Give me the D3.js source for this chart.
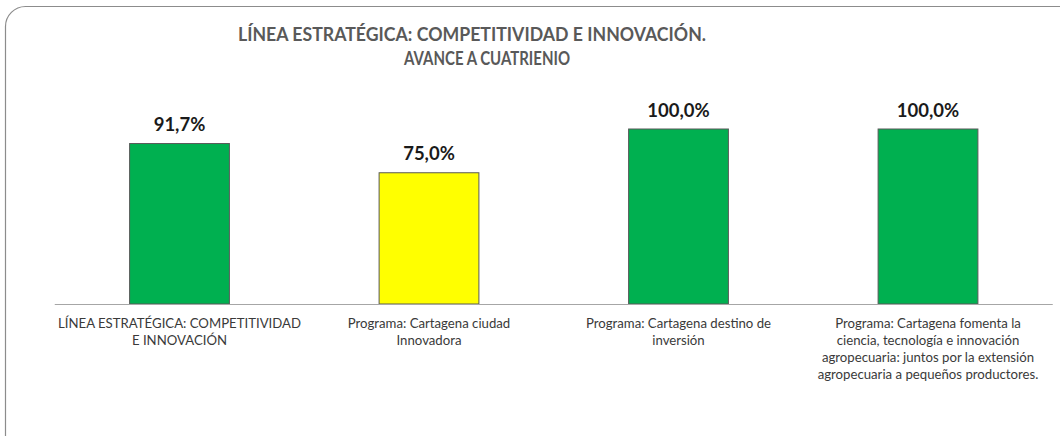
<!DOCTYPE html>
<html>
<head>
<meta charset="utf-8">
<script src="https://cdn.jsdelivr.net/npm/d3@7.9.0/dist/d3.min.js"></script>
<style>
  body { margin: 0; background: #fff; }
  svg { display: block; font-family: Lato, "Open Sans", sans-serif; }
</style>
</head>
<body>
<svg id="chart" width="1060" height="436"></svg>
<script>
// chart data
const titleLines = ['LÍNEA ESTRATÉGICA: COMPETITIVIDAD E INNOVACIÓN.', 'AVANCE A CUATRIENIO'];
const categories = ['linea', 'ciudad', 'destino', 'fomenta'];
const categoryLabels = [
    ['LÍNEA ESTRATÉGICA: COMPETITIVIDAD', 'E INNOVACIÓN'],
    ['Programa: Cartagena ciudad', 'Innovadora'],
    ['Programa: Cartagena destino de', 'inversión'],
    ['Programa: Cartagena fomenta la', 'ciencia, tecnología e innovación', 'agropecuaria: juntos por la extensión', 'agropecuaria a pequeños productores.']
];
const values = [0.917, 0.75, 1.0, 1.0];
const barColors = ['#00B050', '#FFFF00', '#00B050', '#00B050'];

let svg = d3.select('#chart');

// rounded frame (runs off the right and bottom edges like the original)
svg.append('rect')
    .attr('x', 5.5).attr('y', 6.5)
    .attr('width', 1080).attr('height', 450)
    .attr('rx', 20)
    .attr('fill', '#fff')
    .attr('stroke', '#8c8c8c')
    .attr('stroke-width', 1.2);

let x = d3.scaleBand().domain(categories).range([54.75, 1052.75]).paddingInner(0.6).paddingOuter(0.3);
let y = d3.scaleLinear().domain([0, 1]).range([304, 129]);

// title
let title = svg.append('g')
    .attr('font-weight', 'bold')
    .attr('fill', '#595959')
    .attr('text-anchor', 'middle');
title.append('text').attr('x', 472).attr('y', 41).attr('font-size', 18)
    .attr('textLength', 468).attr('lengthAdjust', 'spacingAndGlyphs').text(titleLines[0]);
title.append('text').attr('x', 487).attr('y', 65).attr('font-size', 18)
    .attr('textLength', 166).attr('lengthAdjust', 'spacingAndGlyphs').text(titleLines[1]);

// bars
svg.selectAll('rect.bar')
    .data(values)
    .join('rect')
    .attr('class', 'bar')
    .attr('x', (d, i) => x(categories[i]))
    .attr('y', d => y(d))
    .attr('width', x.bandwidth())
    .attr('height', d => y(0) - y(d))
    .attr('fill', (d, i) => barColors[i])
    .attr('stroke', '#595959')
    .attr('stroke-width', 1);

// category axis line
svg.append('line')
    .attr('x1', x.range()[0]).attr('x2', x.range()[1])
    .attr('y1', y(0) + 0.5).attr('y2', y(0) + 0.5)
    .attr('stroke', '#a6a6a6')
    .attr('stroke-width', 1.2);

// value labels
svg.selectAll('text.value')
    .data(values)
    .join('text')
    .attr('class', 'value')
    .attr('x', (d, i) => x(categories[i]) + x.bandwidth() / 2)
    .attr('y', d => y(d) - 12.5)
    .attr('text-anchor', 'middle')
    .attr('font-size', 18.5)
    .attr('font-weight', 'bold')
    .attr('fill', '#1a1a1a')
    .text(d => d3.format('.1%')(d).replace('.', ','));

// category labels
categoryLabels.forEach((lines, i) => {
    let t = svg.append('text')
        .attr('text-anchor', 'middle')
        .attr('font-size', 13.2)
        .attr('fill', '#3a3a3a');
    lines.forEach((line, j) => {
        t.append('tspan')
            .attr('x', x(categories[i]) + x.bandwidth() / 2)
            .attr('y', 328 + j * 17)
            .text(line);
    });
});
</script>
</body>
</html>
